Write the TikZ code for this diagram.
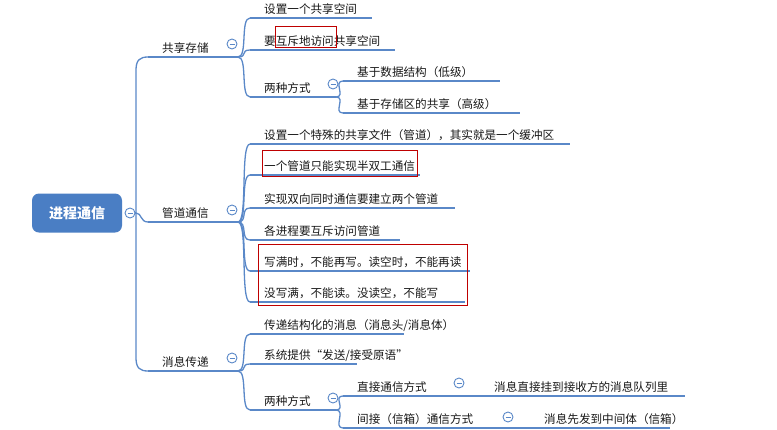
\documentclass[tikz,border=0pt]{standalone}
\usepackage{fontspec}
\setmainfont{Noto Sans CJK SC}
\begin{document}
\begin{tikzpicture}[x=1pt,y=-1pt,
  ul/.style={draw=lineblue,line width=2.4pt},
  br/.style={draw=lineblue,line width=1.3pt},
  lbl/.style={anchor=base west,inner sep=0pt,font=\fontsize{11.6}{13}\selectfont,text=black!90},
  mn/.style={circle,draw=lineblue,line width=0.9pt,fill=white,minimum size=10pt,inner sep=0pt,
    path picture={\draw[lineblue,line width=0.9pt] ([xshift=-2.5pt]path picture bounding box.center) -- ([xshift=2.5pt]path picture bounding box.center);}},
  redbox/.style={draw=red!75!black,line width=1pt}]
\definecolor{lineblue}{HTML}{5A88C8}
\definecolor{rootblue}{HTML}{4A7EC4}
\useasboundingbox (0,0) rectangle (777,429);
\fill[white] (0,0) rectangle (777,429);
\newcommand\leaf[5]{%
  \coordinate (#1-s) at (#2,#4); \coordinate (#1-e) at (#3,#4);
  \node[lbl] (#1) at (#2+14,#4-5) {#5};
  \draw[ul] (#1-s) -- (#1-e);}
\newcommand\conn[2]{\draw[br] (#1) .. controls +(10,0) and +(-10,0) .. (#2-s);}
% root
\node[fill=rootblue,rounded corners=7pt,minimum width=90pt,minimum height=39pt,text=white,font=\fontsize{14}{16}\selectfont\bfseries] (root) at (77,213) {进程通信};
\node[mn] (rm) at (130,213) {};
% level 1
\leaf{a}{148}{222}{57}{共享存储}
\leaf{b}{148}{222}{222}{管道通信}
\leaf{c}{148}{222}{371}{消息传递}
\coordinate (t) at (136,213);
\draw[br] (rm.east) -- (t);
\draw[br] (t) .. controls +(6,0) and +(-8,0) .. (b-s);
\draw[br] (t) -- (136,70) .. controls (136,60) and (140,57) .. (a-s);
\draw[br] (t) -- (136,358) .. controls (136,368) and (140,371) .. (c-s);
\node[mn] (am) at (232,44) {};
\node[mn] (bm) at (232,210) {};
\node[mn] (cm) at (232,358) {};
\coordinate (aj) at (238,57); \coordinate (bj) at (238,222); \coordinate (cj) at (238,371);
\draw[br] (a-e) -- (aj); \draw[br] (b-e) -- (bj); \draw[br] (c-e) -- (cj);
% shared storage
\leaf{a1}{250}{372}{18}{设置一个共享空间}
\leaf{a2}{250}{395}{50}{要互斥地访问共享空间}
\leaf{a3}{250}{323}{97}{两种方式}
\conn{aj}{a1}\conn{aj}{a2}\conn{aj}{a3}
\node[mn] (a3m) at (333,84) {};
\coordinate (a3j) at (336,97); \draw[br] (a3-e) -- (a3j);
\leaf{a31}{343}{500}{81}{基于数据结构（低级）}
\leaf{a32}{343}{520}{113}{基于存储区的共享（高级）}
\conn{a3j}{a31}\conn{a3j}{a32}
\draw[redbox] (275,26) rectangle (336,47);
% pipe
\leaf{b1}{250}{570}{144}{设置一个特殊的共享文件（管道），其实就是一个缓冲区}
\leaf{b2}{250}{420}{175}{一个管道只能实现半双工通信}
\leaf{b3}{250}{455}{208}{实现双向同时通信要建立两个管道}
\leaf{b4}{250}{400}{240}{各进程要互斥访问管道}
\leaf{b5}{250}{470}{271}{写满时，不能再写。读空时，不能再读}
\leaf{b6}{250}{465}{302}{没写满，不能读。没读空，不能写}
\foreach \k in {b1,b2,b3,b4,b5,b6} {\conn{bj}{\k}}
\draw[redbox] (262,150) rectangle (417,176);
\draw[redbox] (258,244) rectangle (467,305);
% message
\leaf{c1}{250}{404}{334}{传递结构化的消息（消息头/消息体）}
\leaf{c2}{250}{357}{364}{系统提供“发送/接受原语”}
\leaf{c3}{250}{320}{410}{两种方式}
\conn{cj}{c1}\conn{cj}{c2}\conn{cj}{c3}
\node[mn] (c3m) at (333,398) {};
\coordinate (c3j) at (336,410); \draw[br] (c3-e) -- (c3j);
\leaf{c31}{343}{448}{396}{直接通信方式}
\leaf{c32}{343}{498}{428}{间接（信箱）通信方式}
\conn{c3j}{c31}\conn{c3j}{c32}
\node[mn] (c31m) at (459,383) {};
\node[mn] (c32m) at (508,417) {};
\leaf{c311}{480}{685}{396}{消息直接挂到接收方的消息队列里}
\leaf{c321}{530}{670}{428}{消息先发到中间体（信箱）}
\draw[br] (c31-e) -- (c311-s);
\draw[br] (c32-e) -- (c321-s);
\end{tikzpicture}
\end{document}
